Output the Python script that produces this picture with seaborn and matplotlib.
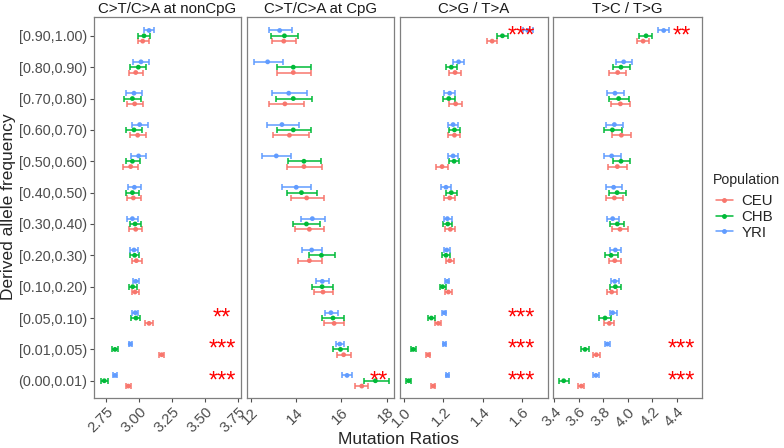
import numpy as np
import pandas as pd
import matplotlib
matplotlib.use("Agg")
import matplotlib.pyplot as plt
from matplotlib.lines import Line2D
import seaborn as sns

# ---------------- data ----------------
categories = ["(0.00,0.01)", "[0.01,0.05)", "[0.05,0.10)", "[0.10,0.20)", "[0.20,0.30)",
              "[0.30,0.40)", "[0.40,0.50)", "[0.50,0.60)", "[0.60,0.70)", "[0.70,0.80)",
              "[0.80,0.90)", "[0.90,1.00)"]
populations = ["CEU", "CHB", "YRI"]
panel_titles = ["C>T/C>A at nonCpG", "C>T/C>A at CpG", "C>G / T>A", "T>C / T>G"]

# panel 1: C>T/C>A at nonCpG
p1_ceu_mid = [2.919, 3.172, 3.076, 2.970, 2.980, 2.975, 2.957, 2.937, 2.990, 2.967, 2.975, 3.028]
p1_ceu_lo = [2.899, 3.152, 3.045, 2.944, 2.944, 2.927, 2.907, 2.881, 2.932, 2.909, 2.922, 2.992]
p1_ceu_hi = [2.939, 3.192, 3.109, 3.003, 3.020, 3.023, 3.015, 2.995, 3.053, 3.030, 3.033, 3.073]
p1_chb_mid = [2.737, 2.818, 2.977, 2.952, 2.967, 2.970, 2.950, 2.950, 2.962, 2.950, 2.995, 3.038]
p1_chb_lo = [2.712, 2.795, 2.942, 2.927, 2.929, 2.929, 2.902, 2.899, 2.904, 2.889, 2.934, 2.992]
p1_chb_hi = [2.765, 2.843, 3.010, 2.987, 3.003, 3.015, 3.003, 3.008, 3.023, 3.013, 3.053, 3.086]
p1_yri_mid = [2.818, 2.934, 2.972, 2.975, 2.962, 2.950, 2.965, 2.997, 3.005, 2.962, 3.015, 3.076]
p1_yri_lo = [2.803, 2.922, 2.949, 2.952, 2.934, 2.912, 2.919, 2.942, 2.947, 2.904, 2.957, 3.035]
p1_yri_hi = [2.836, 2.947, 2.995, 2.997, 2.995, 2.995, 3.013, 3.053, 3.066, 3.023, 3.073, 3.116]

# panel 2: C>T/C>A at CpG
p2_ceu_mid = [16.90, 16.10, 15.68, 15.19, 14.59, 14.59, 14.47, 14.35, 13.71, 13.51, 13.88, 13.46]
p2_ceu_lo = [16.62, 15.82, 15.25, 14.78, 14.10, 13.97, 13.76, 13.59, 12.99, 12.79, 13.18, 12.93]
p2_ceu_hi = [17.19, 16.41, 16.13, 15.62, 15.15, 15.25, 15.25, 15.16, 14.56, 14.34, 14.68, 14.01]
p2_chb_mid = [17.50, 15.96, 15.63, 15.15, 15.12, 14.46, 14.24, 14.35, 13.88, 13.88, 13.88, 13.49]
p2_chb_lo = [17.01, 15.63, 15.16, 14.72, 14.59, 13.88, 13.59, 13.66, 13.18, 13.13, 13.15, 12.91]
p2_chb_hi = [18.09, 16.31, 16.13, 15.62, 15.71, 15.07, 14.93, 15.10, 14.68, 14.72, 14.68, 14.07]
p2_yri_mid = [16.25, 15.93, 15.54, 15.16, 14.69, 14.72, 14.01, 13.13, 13.38, 13.68, 12.75, 13.28]
p2_yri_lo = [16.04, 15.75, 15.29, 14.87, 14.28, 14.21, 13.40, 12.51, 12.72, 12.96, 12.13, 12.81]
p2_yri_hi = [16.47, 16.10, 15.84, 15.47, 15.15, 15.29, 14.68, 13.79, 14.12, 14.50, 13.43, 13.82]

# panel 3: C>G / T>A
p3_ceu_mid = [1.149, 1.124, 1.174, 1.225, 1.232, 1.235, 1.232, 1.193, 1.256, 1.262, 1.259, 1.447]
p3_ceu_lo = [1.139, 1.113, 1.159, 1.210, 1.213, 1.210, 1.203, 1.164, 1.225, 1.230, 1.230, 1.423]
p3_ceu_hi = [1.159, 1.134, 1.190, 1.242, 1.255, 1.261, 1.261, 1.225, 1.286, 1.296, 1.288, 1.472]
p3_chb_mid = [1.024, 1.047, 1.139, 1.196, 1.213, 1.222, 1.240, 1.254, 1.256, 1.227, 1.240, 1.499]
p3_chb_lo = [1.012, 1.036, 1.124, 1.181, 1.195, 1.200, 1.213, 1.227, 1.227, 1.196, 1.212, 1.472]
p3_chb_hi = [1.037, 1.059, 1.156, 1.212, 1.235, 1.245, 1.267, 1.281, 1.286, 1.257, 1.271, 1.526]
p3_yri_mid = [1.220, 1.205, 1.205, 1.220, 1.217, 1.220, 1.213, 1.249, 1.249, 1.232, 1.277, 1.628]
p3_yri_lo = [1.212, 1.198, 1.195, 1.210, 1.203, 1.204, 1.190, 1.222, 1.222, 1.203, 1.250, 1.602]
p3_yri_hi = [1.228, 1.212, 1.215, 1.230, 1.235, 1.245, 1.239, 1.274, 1.274, 1.261, 1.306, 1.653]

# panel 4: T>C / T>G
p4_ceu_mid = [3.623, 3.745, 3.851, 3.870, 3.895, 3.938, 3.892, 3.916, 3.949, 3.941, 3.919, 4.126]
p4_ceu_lo = [3.598, 3.721, 3.810, 3.832, 3.846, 3.876, 3.827, 3.843, 3.876, 3.867, 3.851, 4.077]
p4_ceu_hi = [3.647, 3.772, 3.892, 3.911, 3.949, 4.003, 3.965, 3.992, 4.030, 4.022, 3.990, 4.177]
p4_chb_mid = [3.479, 3.653, 3.816, 3.900, 3.865, 3.916, 3.914, 3.946, 3.876, 3.927, 3.946, 4.150]
p4_chb_lo = [3.443, 3.623, 3.770, 3.859, 3.813, 3.859, 3.851, 3.881, 3.805, 3.851, 3.878, 4.096]
p4_chb_hi = [3.520, 3.683, 3.862, 3.943, 3.919, 3.973, 3.984, 4.022, 3.952, 4.009, 4.020, 4.202]
p4_yri_mid = [3.742, 3.835, 3.878, 3.895, 3.900, 3.878, 3.886, 3.870, 3.892, 3.897, 3.968, 4.294]
p4_yri_lo = [3.718, 3.816, 3.857, 3.867, 3.859, 3.829, 3.827, 3.808, 3.827, 3.829, 3.905, 4.250]
p4_yri_hi = [3.767, 3.854, 3.911, 3.927, 3.943, 3.933, 3.952, 3.943, 3.965, 3.968, 4.033, 4.340]

# significance stars: (category index, label, x position)
p1_stars = [(2, "**", 3.629), (1, "***", 3.629), (0, "***", 3.629)]
p2_stars = [(0, "**", 17.63)]
p3_stars = [(11, "***", 1.594), (2, "***", 1.594), (1, "***", 1.594), (0, "***", 1.594)]
p4_stars = [(11, "**", 4.438), (1, "***", 4.441), (0, "***", 4.441)]

# axis ticks
p1_ticks = [2.75, 3.00, 3.25, 3.50, 3.75]
p2_ticks = [12, 14, 16, 18]
p3_ticks = [1.0, 1.2, 1.4, 1.6]
p4_ticks = [3.4, 3.6, 3.8, 4.0, 4.2, 4.4]
p1_ticklabels = ["2.75", "3.00", "3.25", "3.50", "3.75"]
p2_ticklabels = ["12", "14", "16", "18"]
p3_ticklabels = ["1.0", "1.2", "1.4", "1.6"]
p4_ticklabels = ["3.4", "3.6", "3.8", "4.0", "4.2", "4.4"]

# ---------------- build tables ----------------
raw = {
    0: {"CEU": (p1_ceu_mid, p1_ceu_lo, p1_ceu_hi), "CHB": (p1_chb_mid, p1_chb_lo, p1_chb_hi), "YRI": (p1_yri_mid, p1_yri_lo, p1_yri_hi)},
    1: {"CEU": (p2_ceu_mid, p2_ceu_lo, p2_ceu_hi), "CHB": (p2_chb_mid, p2_chb_lo, p2_chb_hi), "YRI": (p2_yri_mid, p2_yri_lo, p2_yri_hi)},
    2: {"CEU": (p3_ceu_mid, p3_ceu_lo, p3_ceu_hi), "CHB": (p3_chb_mid, p3_chb_lo, p3_chb_hi), "YRI": (p3_yri_mid, p3_yri_lo, p3_yri_hi)},
    3: {"CEU": (p4_ceu_mid, p4_ceu_lo, p4_ceu_hi), "CHB": (p4_chb_mid, p4_chb_lo, p4_chb_hi), "YRI": (p4_yri_mid, p4_yri_lo, p4_yri_hi)},
}
rows = []
for p, d in raw.items():
    for pop, (mid, lo, hi) in d.items():
        for i, c in enumerate(categories):
            rows.append(dict(panel=p, pop=pop, cat=c, idx=i, mid=mid[i], lo=lo[i], hi=hi[i]))
df = pd.DataFrame(rows)
dodge = {"CEU": -0.17, "CHB": 0.0, "YRI": 0.17}
df["ypos"] = df["idx"] + df["pop"].map(dodge)

stars = [p1_stars, p2_stars, p3_stars, p4_stars]
ticks = [p1_ticks, p2_ticks, p3_ticks, p4_ticks]
ticklabels = [p1_ticklabels, p2_ticklabels, p3_ticklabels, p4_ticklabels]
xlims = [(2.659, 3.773), (11.84, 18.32), (0.98, 1.730), (3.392, 4.606)]

palette = {"CEU": "#F8766D", "CHB": "#00BA38", "YRI": "#619CFF"}

# ---------------- plot ----------------
sns.set_theme(style="white")
plt.rcParams["font.family"] = ["Liberation Sans", "DejaVu Sans"]

W, H = 784, 448
fig = plt.figure(figsize=(7.84, 4.48), dpi=100)
panel_px = [(94, 241), (247, 394), (400, 548), (553, 702)]
top_px, bot_px = 17, 398
axes = []
for k, (l, r) in enumerate(panel_px):
    ax = fig.add_axes([l / W, 1 - bot_px / H, (r - l) / W, (bot_px - top_px) / H])
    axes.append(ax)
    sub = df[df["panel"] == k]
    for pop in populations:
        s = sub[sub["pop"] == pop]
        ax.errorbar(s["mid"], s["ypos"], xerr=[s["mid"] - s["lo"], s["hi"] - s["mid"]],
                    fmt="none", ecolor=palette[pop], elinewidth=1.1, capsize=2.2,
                    capthick=1.1, zorder=2)
    sns.scatterplot(data=sub, x="mid", y="ypos", hue="pop", palette=palette,
                    hue_order=populations, s=12, edgecolor="none", linewidth=0,
                    legend=False, ax=ax, zorder=3)
    for (ci, lab, xv) in stars[k]:
        ax.text(xv, ci - 0.02, lab, color="#FF0000", fontsize=17, ha="center",
                va="center", family="Liberation Sans", zorder=4)
    ax.set_xlim(*xlims[k])
    ax.set_ylim(-0.55, 11.6)
    ax.set_xticks(ticks[k])
    ax.set_xticklabels(ticklabels[k], rotation=45, ha="right", rotation_mode="anchor",
                       fontsize=10.8, color="#4D4D4D")
    ax.set_xlabel("")
    ax.set_ylabel("")
    ax.tick_params(axis="x", length=3, width=0.8, color="#4D4D4D", pad=2, bottom=True)
    if k == 0:
        ax.set_yticks(range(len(categories)))
        ax.set_yticklabels(categories, fontsize=10.4, color="#4D4D4D")
        ax.tick_params(axis="y", length=3, width=0.8, color="#4D4D4D", pad=2, left=True)
    else:
        ax.set_yticks([])
    for sp in ax.spines.values():
        sp.set_color("#7F7F7F")
        sp.set_linewidth(0.9)
    ax.set_title(panel_titles[k], fontsize=10.8, color="#1A1A1A", pad=3)
    ax.grid(False)

fig.text(398 / W, 1 - 439 / H, "Mutation Ratios", ha="center", va="center", fontsize=12.5)
fig.text(9 / W, 1 - 207 / H, "Derived allele frequency", ha="center", va="center",
         rotation=90, fontsize=12.5)

fig.text(713 / W, 1 - 180 / H, "Population", ha="left", va="center", fontsize=10.2)
handles = [Line2D([0], [0], color=palette[p], marker="o", markersize=2.5, lw=1.1) for p in populations]
leg = fig.legend(handles, populations, loc="upper left",
                 bbox_to_anchor=(716 / W, 1 - 194 / H), frameon=False, fontsize=10.8,
                 handlelength=1.1, handletextpad=0.6,
                 labelspacing=0.12, borderaxespad=0, borderpad=0)

fig.savefig("out.png", dpi=100)
